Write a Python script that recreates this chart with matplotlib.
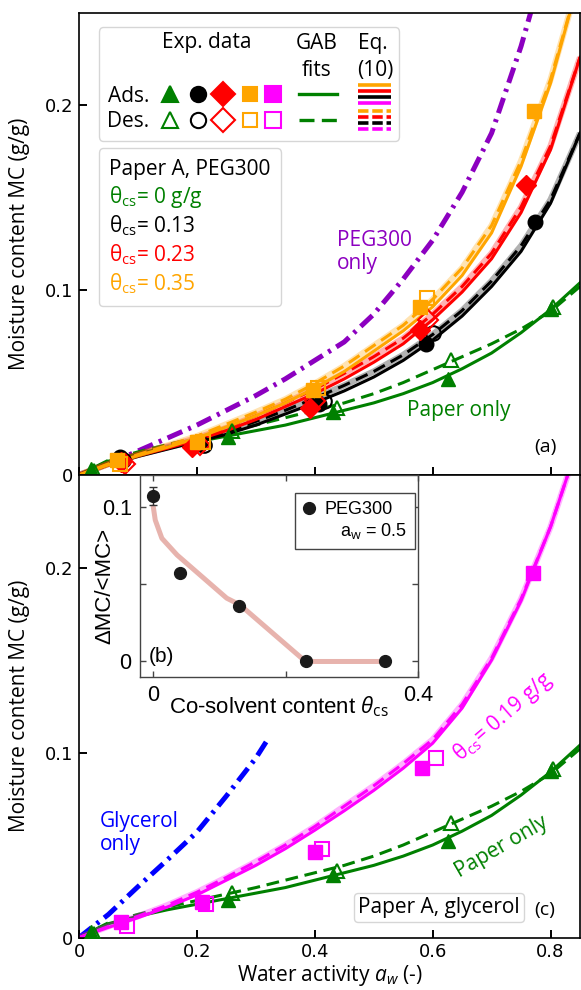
import matplotlib
matplotlib.use('Agg')
import matplotlib.pyplot as plt
from matplotlib.lines import Line2D
from matplotlib.legend_handler import HandlerBase

plt.rcParams['font.family'] = ['Open Sans', 'DejaVu Sans']
plt.rcParams['mathtext.fontset'] = 'custom'
plt.rcParams['mathtext.rm'] = 'Open Sans'
plt.rcParams['mathtext.it'] = 'Open Sans:italic'
plt.rcParams['mathtext.bf'] = 'Open Sans:bold'

# ---------------- data ----------------
aw_fit = [0, 0.05, 0.1, 0.15, 0.2, 0.25, 0.3, 0.35, 0.4, 0.45, 0.5, 0.55, 0.6, 0.65, 0.7, 0.75, 0.8, 0.85]

green_solid = [0, 0.0075, 0.0115, 0.015, 0.018, 0.021, 0.024, 0.027, 0.031, 0.035, 0.039, 0.044, 0.050, 0.0575, 0.066, 0.077, 0.0895, 0.104]
green_dash = [0, 0.008, 0.0125, 0.0165, 0.020, 0.0235, 0.027, 0.031, 0.035, 0.039, 0.044, 0.050, 0.057, 0.064, 0.071, 0.079, 0.0885, 0.102]
black_solid = [0, 0.0055, 0.010, 0.014, 0.018, 0.022, 0.027, 0.033, 0.039, 0.0455, 0.053, 0.062, 0.073, 0.086, 0.102, 0.121, 0.147, 0.185]
black_dash = [0, 0.006, 0.011, 0.015, 0.019, 0.0235, 0.029, 0.035, 0.0415, 0.0485, 0.056, 0.065, 0.076, 0.089, 0.105, 0.124, 0.149, 0.185]
red_solid = [0, 0.0055, 0.0105, 0.0145, 0.019, 0.024, 0.030, 0.037, 0.044, 0.052, 0.061, 0.071, 0.084, 0.099, 0.117, 0.142, 0.176, 0.226]
red_dash = [0, 0.006, 0.011, 0.0155, 0.020, 0.0255, 0.032, 0.039, 0.0465, 0.055, 0.064, 0.074, 0.087, 0.102, 0.120, 0.145, 0.178, 0.226]
orange_solid = [0, 0.0055, 0.0105, 0.015, 0.020, 0.026, 0.032, 0.039, 0.047, 0.056, 0.067, 0.078, 0.091, 0.108, 0.131, 0.167, 0.212, 0.270]
orange_dash = [0, 0.006, 0.011, 0.016, 0.021, 0.0275, 0.034, 0.041, 0.0495, 0.059, 0.070, 0.081, 0.095, 0.112, 0.135, 0.170, 0.214, 0.270]
magenta_solid = [0, 0.0055, 0.0107, 0.0165, 0.023, 0.031, 0.039, 0.048, 0.058, 0.0685, 0.0795, 0.0915, 0.105, 0.124, 0.150, 0.182, 0.222, 0.270]
magenta_dash = [0, 0.006, 0.0115, 0.0175, 0.0245, 0.0325, 0.041, 0.050, 0.060, 0.071, 0.082, 0.094, 0.107, 0.126, 0.151, 0.183, 0.222, 0.270]

aw_peg = [0, 0.05, 0.1, 0.15, 0.2, 0.25, 0.3, 0.35, 0.4, 0.45, 0.5, 0.55, 0.6, 0.65, 0.7, 0.75, 0.78]
mc_peg = [0, 0.006, 0.013, 0.020, 0.027, 0.035, 0.043, 0.052, 0.062, 0.072, 0.087, 0.106, 0.127, 0.153, 0.185, 0.232, 0.2655]
aw_gly = [0, 0.05, 0.1, 0.15, 0.2, 0.25, 0.3, 0.32]
mc_gly = [0, 0.0125, 0.0275, 0.042, 0.057, 0.0765, 0.097, 0.107]

# experimental points
green_ads_aw = [0.021, 0.253, 0.431, 0.626, 0.80]
green_ads_mc = [0.003, 0.0205, 0.034, 0.052, 0.090]
green_des_aw = [0.026, 0.259, 0.437, 0.631, 0.805]
green_des_mc = [0.002, 0.024, 0.036, 0.062, 0.091]
black_ads_aw = [0.069, 0.205, 0.408, 0.589, 0.773]
black_ads_mc = [0.0095, 0.017, 0.0385, 0.071, 0.137]
black_des_aw = [0.074, 0.212, 0.415, 0.600]
black_des_mc = [0.008, 0.016, 0.040, 0.0766]
red_ads_aw = [0.072, 0.191, 0.392, 0.578, 0.758]
red_ads_mc = [0.007, 0.015, 0.036, 0.0785, 0.157]
red_des_aw = [0.078, 0.205, 0.40, 0.592]
red_des_mc = [0.006, 0.016, 0.040, 0.0836]
orange_ads_aw = [0.065, 0.20, 0.397, 0.579, 0.772]
orange_ads_mc = [0.008, 0.018, 0.046, 0.0908, 0.197]
orange_des_aw = [0.07, 0.21, 0.405, 0.59]
orange_des_mc = [0.006, 0.018, 0.047, 0.096]
magenta_ads_aw = [0.072, 0.208, 0.40, 0.582, 0.770]
magenta_ads_mc = [0.0083, 0.019, 0.046, 0.0918, 0.197]
magenta_des_aw = [0.081, 0.215, 0.413, 0.605]
magenta_des_mc = [0.006, 0.018, 0.048, 0.097]

# inset (b)
theta_cs = [0, 0.04, 0.13, 0.23, 0.35]
dmc_rel = [0.107, 0.0574, 0.036, 0.0, 0.0]
dmc_err = [0.006, 0, 0, 0, 0]
trend_x = [0, 0.003, 0.013, 0.036, 0.111, 0.131, 0.23, 0.35]
trend_y = [0.100, 0.0914, 0.0796, 0.0688, 0.0409, 0.0366, 0.0, 0.0]

xticks_main = [0, 0.2, 0.4, 0.6, 0.8]
xticklabels_main = ['0', '0.2', '0.4', '0.6', '0.8']
yticks_main = [0, 0.1, 0.2]
yticklabels_main = ['0', '0.1', '0.2']
xticks_in = [0, 0.2, 0.4]
xticklabels_in = ['0', '', '0.4']
yticks_in = [0, 0.05, 0.1]
yticklabels_in = ['0', '', '0.1']

legend_cs = ['Paper A, PEG300', 'θ$_{\\rm cs}$= 0 g/g', 'θ$_{\\rm cs}$= 0.13',
             'θ$_{\\rm cs}$= 0.23', 'θ$_{\\rm cs}$= 0.35']

# ---------------- styles ----------------
GREEN = '#008000'
BLACK = '#000000'
RED = '#ff0000'
ORANGE = '#ffa500'
MAGENTA = '#ff00ff'
PURPLE = '#8c00c0'
BLUE = '#0000ff'
DASH = (0, (4.2, 2.2))
DASHDOT = (0, (3.2, 1.3, 0.6, 1.3))

fig = plt.figure(figsize=(5.81, 9.90), dpi=100)
ax_top = fig.add_axes([0.136, 0.5202, 0.8623, 0.4667])
ax_bot = fig.add_axes([0.136, 0.0530, 0.8623, 0.4672])

for ax in (ax_top, ax_bot):
    ax.set_xlim(0, 0.85)
    ax.set_ylim(0, 0.25)
    ax.set_xticks(xticks_main)
    ax.set_yticks(yticks_main)
    ax.set_xticklabels(xticklabels_main, fontfamily='DejaVu Sans', fontsize=13)
    ax.set_yticklabels(yticklabels_main, fontfamily='DejaVu Sans', fontsize=13)
    ax.tick_params(direction='in', length=6, width=1.4, pad=4)
    for s in ax.spines.values():
        s.set_linewidth(1.2)
    ax.set_ylabel('Moisture content MC (g/g)', fontsize=15)
    ax.yaxis.set_label_coords(-0.097, 0.5)
ax_top.tick_params(labelbottom=False)


def plot_fit(ax, solid, dash, color, eq=True):
    if eq:
        ax.plot(aw_fit, dash, color=color, lw=4.5, alpha=0.3, solid_capstyle='butt')
    ax.plot(aw_fit, solid, color=color, lw=2.2)
    ax.plot(aw_fit, dash, color=color, lw=2.2, ls=DASH)


def plot_pts(ax, aw_a, mc_a, aw_d, mc_d, marker, color, ms):
    ax.plot(aw_a, mc_a, ls='none', marker=marker, ms=ms, color=color, mec=color, zorder=4)
    ax.plot(aw_d, mc_d, ls='none', marker=marker, ms=ms, mfc='none', mec=color, mew=1.5, zorder=4)


# ---- top panel (a) ----
ax_top.plot(aw_peg, mc_peg, color=PURPLE, lw=3.6, ls=DASHDOT)
plot_fit(ax_top, green_solid, green_dash, GREEN, eq=False)
plot_fit(ax_top, black_solid, black_dash, BLACK)
plot_fit(ax_top, red_solid, red_dash, RED)
plot_fit(ax_top, orange_solid, orange_dash, ORANGE)
plot_pts(ax_top, green_ads_aw, green_ads_mc, green_des_aw, green_des_mc, '^', GREEN, 10.5)
plot_pts(ax_top, black_ads_aw, black_ads_mc, black_des_aw, black_des_mc, 'o', BLACK, 10.5)
plot_pts(ax_top, red_ads_aw, red_ads_mc, red_des_aw, red_des_mc, 'D', RED, 10)
plot_pts(ax_top, orange_ads_aw, orange_ads_mc, orange_des_aw, orange_des_mc, 's', ORANGE, 10.5)

ax_top.text(0.437, 0.1207, 'PEG300\nonly', color=PURPLE, fontsize=15, ha='left', va='center', linespacing=1.15)
ax_top.text(0.645, 0.0349, 'Paper only', color=GREEN, fontsize=15, ha='center', va='center')
ax_top.text(0.792, 0.0149, '(a)', color='black', fontsize=14, ha='center', va='center')

# legend 1: experimental symbols / fit lines
MARKERS = ['^', 'o', 'D', 's', 's']
COLORS5 = [GREEN, BLACK, RED, ORANGE, MAGENTA]
LEG_MS = [11, 11, 12, 10.5, 11]
LEG_FRAC = [0.052, 0.172, 0.279, 0.395, 0.494]
EQ_COLORS = [ORANGE, RED, BLACK, MAGENTA]


class RowHandler(HandlerBase):
    def __init__(self, filled):
        super().__init__()
        self.filled = filled

    def create_artists(self, legend, orig_handle, xdescent, ydescent, width, height, fontsize, trans):
        x0 = -xdescent
        yc = -ydescent + height / 2
        arts = []
        for f, mk, c, ms in zip(LEG_FRAC, MARKERS, COLORS5, LEG_MS):
            ln = Line2D([x0 + f * width], [yc], ls='none', marker=mk, ms=ms, color=c,
                        mfc=c if self.filled else 'none', mec=c, mew=1.5)
            ln.set_transform(trans)
            arts.append(ln)
        ln = Line2D([x0 + 0.605 * width, x0 + 0.768 * width], [yc, yc], color=GREEN, lw=2.4,
                    ls='-' if self.filled else (0, (4.5, 2.2)))
        ln.set_transform(trans)
        arts.append(ln)
        step = 4.25
        for i, c in enumerate(EQ_COLORS):
            yy = yc + (1.5 - i) * step
            ln = Line2D([x0 + 0.858 * width, x0 + 1.0 * width], [yy, yy], color=c, lw=2.6,
                        ls='-' if self.filled else (0, (2.9, 1.05)), solid_capstyle='butt',
                        dash_capstyle='butt')
            ln.set_transform(trans)
            arts.append(ln)
        return arts


h_ads = Line2D([], [])
h_des = Line2D([], [])
leg1 = ax_top.legend([h_ads, h_des], ['Ads.', 'Des.'],
                     handler_map={h_ads: RowHandler(True), h_des: RowHandler(False)},
                     loc='upper left', bbox_to_anchor=(0.0399, 0.9686), borderaxespad=0,
                     fontsize=15, markerfirst=False, handlelength=11.2, handletextpad=0.4,
                     borderpad=0.4, labelspacing=0.22, title=' \n ', title_fontsize=15)
ax_top.add_artist(leg1)
for txt, x, y in [('Exp. data', 0.255, 0.936), ('GAB', 0.475, 0.934), ('fits', 0.475, 0.8755),
                  ('Eq.', 0.587, 0.934), ('(10)', 0.591, 0.8755)]:
    ax_top.text(x, y, txt, transform=ax_top.transAxes, fontsize=15, ha='center', va='center', zorder=6)

hs = [Line2D([], [], ls='none') for _ in legend_cs]
leg2 = ax_top.legend(hs, legend_cs, labelcolor=[BLACK, GREEN, BLACK, RED, ORANGE],
                     loc='upper left', bbox_to_anchor=(0.0399, 0.7067), borderaxespad=0,
                     fontsize=15, handlelength=0, handletextpad=0, labelspacing=0.19, borderpad=0.5)

# ---- bottom panel (c) ----
ax_bot.plot(aw_gly, mc_gly, color=BLUE, lw=3.6, ls=DASHDOT)
plot_fit(ax_bot, green_solid, green_dash, GREEN, eq=False)
plot_fit(ax_bot, magenta_solid, magenta_dash, MAGENTA)
plot_pts(ax_bot, green_ads_aw, green_ads_mc, green_des_aw, green_des_mc, '^', GREEN, 10.5)
plot_pts(ax_bot, magenta_ads_aw, magenta_ads_mc, magenta_des_aw, magenta_des_mc, 's', MAGENTA, 10.5)

ax_bot.set_xlabel('Water activity $a_w$ (-)', fontsize=15)
ax_bot.xaxis.set_label_coords(0.5, -0.055)
ax_bot.text(0.0356, 0.0565, 'Glycerol\nonly', color=BLUE, fontsize=15, ha='left', va='center', linespacing=1.15)
ax_bot.text(0.7194, 0.1193, 'θ$_{\\rm cs}$= 0.19 g/g', color=MAGENTA, fontsize=15, ha='center', va='center',
            rotation=41, rotation_mode='anchor')
ax_bot.text(0.7177, 0.049, 'Paper only', color=GREEN, fontsize=15, ha='center', va='center',
            rotation=30, rotation_mode='anchor')
ax_bot.text(0.79, 0.0149, '(c)', color='black', fontsize=14, ha='center', va='center')
leg3 = ax_bot.legend([Line2D([], [], ls='none')], ['Paper A, glycerol'], loc='upper left',
                     bbox_to_anchor=(0.549, 0.097), borderaxespad=0, fontsize=15, handlelength=0,
                     handletextpad=0, borderpad=0.2)

# ---- inset (b) ----
ax_in = fig.add_axes([0.2410, 0.3162, 0.4785, 0.2040])
ax_in.plot(trend_x, trend_y, color='#e09a92', lw=3.6, alpha=0.75, solid_capstyle='round')
ax_in.errorbar(theta_cs[:1], dmc_rel[:1], yerr=dmc_err[:1], fmt='none', ecolor='#333333', elinewidth=1, capsize=3)
ax_in.plot(theta_cs, dmc_rel, ls='none', marker='o', ms=8.5, color='#1a1a1a')
ax_in.set_xlim(-0.02, 0.4)
ax_in.set_ylim(-0.01, 0.1205)
ax_in.set_xticks(xticks_in)
ax_in.set_yticks(yticks_in)
ax_in.set_xticklabels(xticklabels_in, fontfamily='Liberation Sans', fontsize=15.5)
ax_in.set_yticklabels(yticklabels_in, fontfamily='Liberation Sans', fontsize=15.5)
ax_in.tick_params(direction='in', top=True, right=True, length=4, width=1, color='#444444', pad=6)
for s in ax_in.spines.values():
    s.set_color('#444444')
    s.set_linewidth(1.0)
ax_in.set_ylabel('ΔMC/<MC>', fontfamily='Liberation Sans', fontsize=16)
ax_in.yaxis.set_label_coords(-0.09, 0.45)
ax_in.set_xlabel('Co-solvent content $\\theta_{\\rm cs}$', fontfamily='Liberation Sans', fontsize=16)
ax_in.xaxis.set_label_coords(0.5, -0.084)
ax_in.text(0.013, 0.003, '(b)', fontfamily='Liberation Sans', fontsize=15, ha='center', va='center')
hin = [Line2D([], [], ls='none', marker='o', ms=8.5, color='#1a1a1a'), Line2D([], [], ls='none')]
leg_in = ax_in.legend(hin, ['PEG300', '   a$_{\\rm w}$ = 0.5'], loc='upper left', bbox_to_anchor=(0.5576, 0.911),
                      borderaxespad=0, fancybox=False, edgecolor='#444444', framealpha=1,
                      prop={'family': 'Liberation Sans', 'size': 13}, handlelength=0.7,
                      handletextpad=0.5, labelspacing=0.15, borderpad=0.45)
leg_in.get_frame().set_linewidth(1.0)

fig.savefig('out.png', dpi=100)
